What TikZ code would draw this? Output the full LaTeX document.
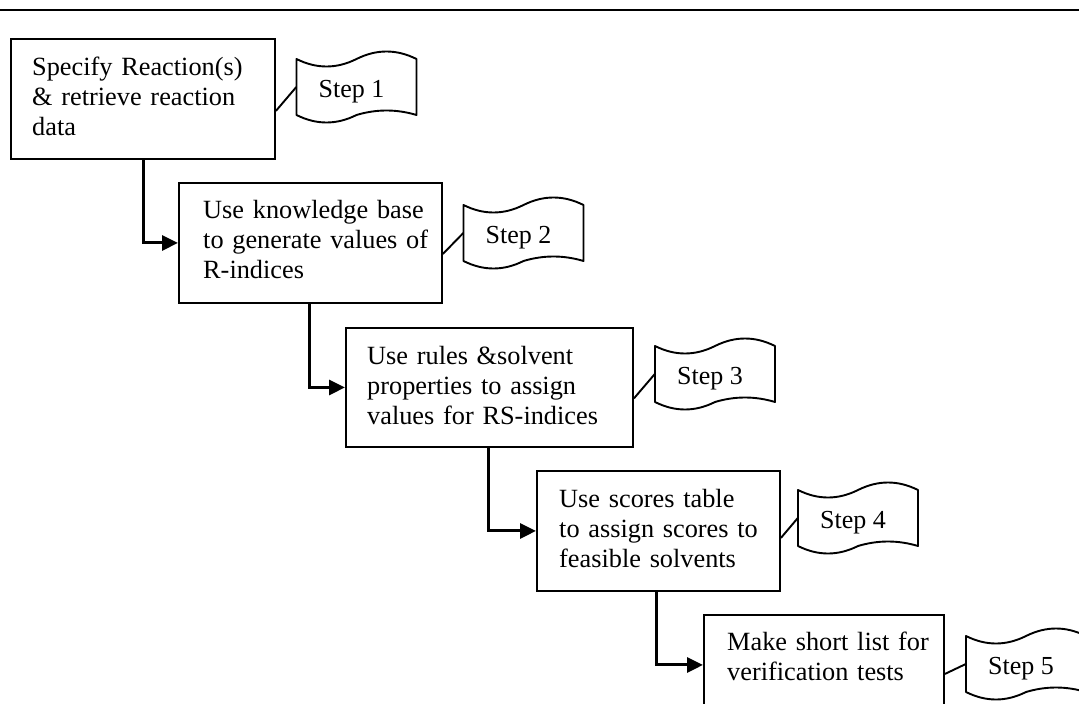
\documentclass[tikz,border=0pt]{standalone}
\usepackage{fontspec}
\setmainfont{Liberation Serif}
\usetikzlibrary{arrows.meta,calc}

% wavy banner drawn round the flag node given as argument
\newcommand\wavyflag[1]{%
  \begin{scope}[shift={(#1.center)}, x=1pt, y=1pt]
    \draw[flagline] (-60,28)
      .. controls (-40,18) and (-20,18) .. (0,28)
      .. controls (20,38) and (40,38) .. (60,28)
      -- (60,-28)
      .. controls (40,-22) and (20,-22) .. (0,-28)
      .. controls (-20,-38) and (-40,-38) .. (-60,-28)
      -- cycle;
  \end{scope}}

\begin{document}
\begin{tikzpicture}[x=1pt,y=-1pt,
  stage/.style={draw, line width=1.9pt, rectangle, inner sep=0pt, anchor=north west},
  stagetext/.style={anchor=base west, align=left, text width=300pt, inner sep=0pt,
    font=\fontsize{26.3}{30}\selectfont},
  flag/.style={rectangle, minimum width=120pt, minimum height=58pt, inner sep=0pt},
  flagtext/.style={inner sep=0pt, font=\fontsize{26}{30}\selectfont},
  flagline/.style={line width=1.9pt, line join=round},
  tie/.style={line width=1.9pt},
  flow/.style={line width=3pt, -{Triangle[length=16pt,width=15pt]}}]

\useasboundingbox (0,0) rectangle (1079,704);

% header rule
\coordinate (ruleL) at (0,10);
\coordinate (ruleR) at (1079,10);
\draw[line width=2.6pt] (ruleL) -- (ruleR);

% process boxes
\node[stage, minimum width=264pt, minimum height=120pt] (b1) at (10,38) {};
\node[stage, minimum width=263pt, minimum height=120pt] (b2) at (178,182) {};
\node[stage, minimum width=287pt, minimum height=119pt] (b3) at (345,327) {};
\node[stage, minimum width=243pt, minimum height=120pt] (b4) at (536,470) {};
\node[stage, minimum width=240pt, minimum height=100pt] (b5) at (703,614) {};

% box texts
\node[stagetext] (t1) at ([shift={(22pt,-37pt)}]b1.north west)
  {Specify Reaction(s)\\\& retrieve reaction\\data};
\node[stagetext] (t2) at ([shift={(25pt,-36pt)}]b2.north west)
  {Use knowledge base\\to generate values of\\R-indices};
\node[stagetext] (t3) at ([shift={(22pt,-37pt)}]b3.north west)
  {Use rules \&solvent\\properties to assign\\values for RS-indices};
\node[stagetext] (t4) at ([shift={(23pt,-37pt)}]b4.north west)
  {Use scores table\\to assign scores to\\feasible solvents};
\node[stagetext] (t5) at ([shift={(24pt,-36pt)}]b5.north west)
  {Make short list for\\verification tests};

% step flags
\node[flag] (s1) at (356.5,87) {};
\node[flag] (s2) at (523.5,233) {};
\node[flag] (s3) at (715,374) {};
\node[flag] (s4) at (858,518) {};
\node[flag] (s5) at (1026,664) {};
\wavyflag{s1}\wavyflag{s2}\wavyflag{s3}\wavyflag{s4}\wavyflag{s5}

\node[flagtext] (l1) at ([shift={(-5pt,-5pt)}]s1.center) {Step 1};
\node[flagtext] (l2) at ([shift={(-5pt,-5pt)}]s2.center) {Step 2};
\node[flagtext] (l3) at ([shift={(-5pt,-5pt)}]s3.center) {Step 3};
\node[flagtext] (l4) at ([shift={(-5pt,-5pt)}]s4.center) {Step 4};
\node[flagtext] (l5) at ([shift={(-5pt,-5pt)}]s5.center) {Step 5};

% ties from boxes to flags
\draw[tie] ([yshift=-12pt]b1.east) -- (s1.west);
\draw[tie] ([yshift=-11pt]b2.east) -- (s2.west);
\draw[tie] ([yshift=-11pt]b3.east) -- (s3.west);
\draw[tie] ([yshift=-7pt]b4.east) -- (s4.west);
\draw[tie] ([yshift=-9pt]b5.east) -- (s5.west);

% flow arrows
\draw[flow] ([xshift=133pt]b1.south west) |- (b2.west);
\draw[flow] ([xshift=131pt]b2.south west) |- (b3.west);
\draw[flow] ([xshift=143pt]b3.south west) |- (b4.west);
\draw[flow] ([xshift=120pt]b4.south west) |- (b5.west);
\end{tikzpicture}
\end{document}
